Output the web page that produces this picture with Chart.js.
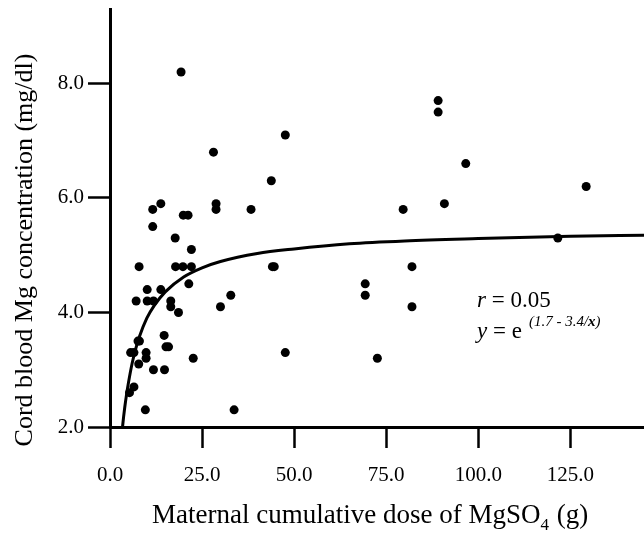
<!DOCTYPE html>
<html>
<head>
<meta charset="utf-8">
<script src="https://cdn.jsdelivr.net/npm/chart.js@4.4.1/dist/chart.umd.min.js"></script>
<style>
  body { margin: 0; background: #fff; }
  canvas { display: block; }
</style>
</head>
<body>
<canvas id="myChart" width="644" height="533"></canvas>
<script>
// dose (g) and cord blood Mg (mg/dl)
const doseX = [19.3, 47.6, 28.1, 43.8, 11.6, 13.8, 19.9, 21.2, 28.8, 28.8,
  38.3, 11.6, 17.7, 22.1, 7.9, 17.8, 19.8, 22.1, 21.4, 44.1,
  44.6, 10.1, 13.8, 32.8, 7.1, 10.1, 11.8, 16.5, 16.5, 30.0,
  18.6, 7.6, 8.0, 14.7, 15.2, 15.9, 5.6, 6.5, 9.8, 9.8,
  7.8, 22.6, 11.8, 14.8, 47.6, 6.5, 5.3, 9.6, 33.7, 89.1,
  89.1, 96.6, 79.6, 90.8, 69.3, 69.3, 82.0, 82.0, 72.6, 129.3,
  121.6];
const mgY = [8.2, 7.1, 6.8, 6.3, 5.8, 5.9, 5.7, 5.7, 5.9, 5.8,
  5.8, 5.5, 5.3, 5.1, 4.8, 4.8, 4.8, 4.8, 4.5, 4.8,
  4.8, 4.4, 4.4, 4.3, 4.2, 4.2, 4.2, 4.2, 4.1, 4.1,
  4.0, 3.5, 3.5, 3.6, 3.4, 3.4, 3.3, 3.3, 3.3, 3.2,
  3.1, 3.2, 3.0, 3.0, 3.3, 2.7, 2.6, 2.3, 2.3, 7.7,
  7.5, 6.6, 5.8, 5.9, 4.5, 4.3, 4.8, 4.1, 3.2, 6.2,
  5.3];

// fitted curve as drawn
const curveX = [3.4, 3.7, 4, 4.5, 5, 6, 7, 8, 10, 12, 15, 20, 25, 30, 40, 50, 65, 80, 100, 125, 145];
const curveY = [2.0, 2.18, 2.34, 2.57, 2.77, 3.11, 3.37, 3.58, 3.90, 4.12, 4.36, 4.62, 4.78, 4.89, 5.03, 5.11, 5.20, 5.25, 5.29, 5.33, 5.35];

const xTicks = [0, 25, 50, 75, 100, 125];
const yTicks = [2, 4, 6, 8];

const serif = "'Liberation Serif', 'Times New Roman', serif";

const points = doseX.map((x, i) => ({x: x, y: mgY[i]}));
const curve = curveX.map((x, i) => ({x: x, y: curveY[i]}));

const textPlugin = {
  id: 'texts',
  afterDraw(chart) {
    const c = chart.ctx;
    c.save();
    c.fillStyle = '#000';
    c.textBaseline = 'alphabetic';

    // y title
    c.save();
    c.translate(32, 250);
    c.rotate(-Math.PI / 2);
    c.textAlign = 'center';
    c.font = '26px ' + serif;
    c.fillText('Cord blood Mg concentration (mg/dl)', 0, 0);
    c.restore();

    // x title with subscript
    c.textAlign = 'left';
    let x = 152;
    c.font = '27px ' + serif;
    let s = 'Maternal cumulative dose of MgSO';
    c.fillText(s, x, 523);
    x += c.measureText(s).width;
    c.font = '17px ' + serif;
    c.fillText('4', x, 530);
    x += c.measureText('4').width + 1;
    c.font = '27px ' + serif;
    c.fillText(' (g)', x, 523);

    // r and equation
    x = 477;
    c.font = 'italic 23px ' + serif;
    c.fillText('r', x, 307);
    x += c.measureText('r').width;
    c.font = '23px ' + serif;
    c.fillText(' = 0.05', x, 307);

    x = 477;
    c.font = 'italic 23px ' + serif;
    c.fillText('y', x, 338);
    x += c.measureText('y').width;
    c.font = '23px ' + serif;
    c.fillText(' = e', x, 338);
    x += c.measureText(' = e').width + 7;
    c.font = 'italic 15px ' + serif;
    s = '(1.7 - 3.4/';
    c.fillText(s, x, 326);
    x += c.measureText(s).width;
    c.font = 'italic bold 15px ' + serif;
    c.fillText('x', x, 326);
    x += c.measureText('x').width;
    c.font = 'italic 15px ' + serif;
    c.fillText(')', x, 326);
    c.restore();
  }
};

const data = {
  datasets: [
    {
      type: 'scatter',
      data: points,
      pointRadius: 4.5,
      pointBackgroundColor: '#000',
      pointBorderWidth: 0,
      order: 2
    },
    {
      type: 'line',
      data: curve,
      borderColor: '#000',
      borderWidth: 3,
      pointRadius: 0,
      fill: false,
      cubicInterpolationMode: 'monotone',
      order: 1
    }
  ]
};

const config = {
  type: 'scatter',
  data: data,
  plugins: [textPlugin],
  options: {
    responsive: false,
    animation: false,
    devicePixelRatio: 1,
    layout: { autoPadding: false, padding: { top: 9, right: 0, bottom: 0, left: 0 } },
    plugins: {
      legend: { display: false },
      tooltip: { enabled: false }
    },
    scales: {
      x: {
        type: 'linear',
        min: 0,
        max: 145,
        afterBuildTicks: s => { s.ticks = xTicks.map(v => ({value: v})); },
        afterFit: s => { s.height = 106; s.paddingLeft = 0; s.paddingRight = 0; },
        grid: {
          drawOnChartArea: false,
          drawTicks: true,
          tickLength: 21,
          tickWidth: 2.5,
          tickColor: '#000'
        },
        border: { display: true, color: '#000', width: 3 },
        ticks: {
          color: '#000',
          padding: 15,
          maxRotation: 0,
          font: { family: serif, size: 21 },
          callback: v => v.toFixed(1)
        }
      },
      y: {
        type: 'linear',
        min: 2,
        max: 9.3,
        afterBuildTicks: s => { s.ticks = yTicks.map(v => ({value: v})); },
        afterFit: s => { s.width = 110; s.paddingTop = 0; s.paddingBottom = 0; },
        grid: {
          drawOnChartArea: false,
          drawTicks: true,
          tickLength: 22,
          tickWidth: 2.5,
          tickColor: '#000'
        },
        border: { display: true, color: '#000', width: 3 },
        ticks: {
          color: '#000',
          padding: 4,
          font: { family: serif, size: 21 },
          callback: v => v.toFixed(1)
        }
      }
    }
  }
};

const mychart = new Chart(document.getElementById('myChart').getContext('2d'), config);
</script>
</body>
</html>
